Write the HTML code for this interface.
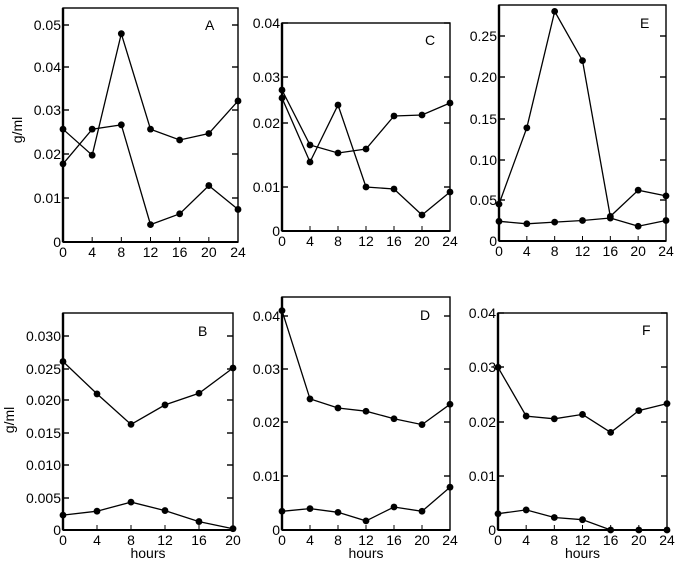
<!DOCTYPE html>
<html><head><style>body{margin:0;background:#fff}svg{display:block}text{font-family:"Liberation Sans",sans-serif;fill:#000}</style></head>
<body>
<svg id="s" width="680" height="564" xmlns="http://www.w3.org/2000/svg"></svg>
<script>
const s=document.getElementById('s');let h='';
function panel(o){
 const {x0,x1,top,bot,xt,yt,ys,series,letter,lx,ly,hours}=o;
 h+=`<rect x="${x0}" y="${top}" width="${x1-x0}" height="${bot-top}" fill="none" stroke="#000" stroke-width="1.4"/>`;
 h+=`<line x1="${x0}" y1="${top}" x2="${x0}" y2="${bot}" stroke="#000" stroke-width="2.4"/>`;
 h+=`<line x1="${x0}" y1="${bot}" x2="${x1}" y2="${bot}" stroke="#000" stroke-width="2"/>`;
 const n=xt.length;
 xt.forEach((t,i)=>{const x=x0+(x1-x0)*i/(n-1);h+=`<line x1="${x}" y1="${bot}" x2="${x}" y2="${bot-5}" stroke="#000"/><text x="${x}" y="${bot+15}" font-size="14" text-anchor="middle">${t}</text>`;});
 yt.forEach(([lab,y])=>{h+=`<line x1="${x0}" y1="${y}" x2="${x0+6}" y2="${y}" stroke="#000" stroke-width="1.4"/><line x1="${x1}" y1="${y}" x2="${x1-6}" y2="${y}" stroke="#000" stroke-width="1.4"/><text x="${x0-2}" y="${y+5}" font-size="14" text-anchor="end">${lab}</text>`;});
 series.forEach(ser=>{const pts=ser.map((v,i)=>v==null?null:[x0+(x1-x0)*i/(n-1),ser.px?v:ys(v)]);
  let d='';let pen=false;pts.forEach(p=>{if(!p){pen=false;return;}d+=(pen?'L':'M')+p[0].toFixed(1)+' '+p[1].toFixed(1);pen=true;});
  h+=`<path d="${d}" fill="none" stroke="#000" stroke-width="1.3"/>`;
  pts.forEach(p=>{if(p)h+=`<circle cx="${p[0]}" cy="${p[1]}" r="3.4"/>`;});});
 h+=`<text x="${lx}" y="${ly}" font-size="14">${letter}</text>`;
 if(hours)h+=`<text x="${(x0+x1)/2}" y="${bot+28}" font-size="14" text-anchor="middle">hours</text>`;
}
const X24=[0,4,8,12,16,20,24];
let yA=v=>242-v*4340;
panel({x0:63,x1:238,top:8,bot:242,xt:X24,yt:[["0.05",25],["0.04",67],["0.03",110],["0.02",154],["0.01",198],["0",242]],ys:yA,
 series:[[.026,.020,.048,.026,.0235,.025,.0325],[.018,.026,.027,.004,.0065,.013,.0075]],letter:"A",lx:205,ly:30});
let c1=[90,145,153,149,116,115,103],c2=[98,162,105,187,189,215,192];c1.px=c2.px=1;
panel({x0:282,x1:450,top:23,bot:231,xt:X24,yt:[["0.04",23],["0.03",77],["0.02",123],["0.01",187],["0",231]],ys:v=>v,
 series:[c1,c2],letter:"C",lx:425,ly:45});
let yE=v=>241-v*820;
panel({x0:499,x1:666,top:5,bot:241,xt:X24,yt:[["0.25",36],["0.20",77],["0.15",119],["0.10",160],["0.05",200],["0",241]],ys:yE,
 series:[[.045,.138,.28,.22,.03,.062,.055],[.024,.021,.023,.025,.028,.018,.025]],letter:"E",lx:640,ly:28});
panel({x0:63,x1:233,top:313,bot:530,xt:[0,4,8,12,16,20],yt:[["0.030",336],["0.025",369],["0.020",400],["0.015",433],["0.010",465],["0.005",498],["0",530]],ys:v=>530-v*6480,
 series:[[.026,.021,.0163,.0193,.0211,.025],[.0023,.0029,.0043,.003,.0013,.0002]],letter:"B",lx:198,ly:336,hours:1});
panel({x0:282,x1:450,top:297,bot:530,xt:X24,yt:[["0.04",316],["0.03",369],["0.02",422],["0.01",476],["0",530]],ys:v=>530-v*5350,
 series:[[.041,.0245,.0228,.0222,.0208,.0197,.0235],[.0035,.004,.0033,.0017,.0043,.0035,.008]],letter:"D",lx:420,ly:320,hours:1});
panel({x0:498,x1:667,top:313,bot:530,xt:X24,yt:[["0.04",313],["0.03",367],["0.02",422],["0.01",476],["0",530]],ys:v=>530-v*5425,
 series:[[.030,.021,.0205,.0213,.018,.022,.0233],[.003,.0037,.0023,.0019,0,0,0]],letter:"F",lx:642,ly:335,hours:1});
h+=`<text transform="translate(22,130) rotate(-90)" font-size="14" text-anchor="middle">g/ml</text>`;
h+=`<text transform="translate(14,420) rotate(-90)" font-size="14" text-anchor="middle">g/ml</text>`;
s.innerHTML=h;
</script>
</body></html>
